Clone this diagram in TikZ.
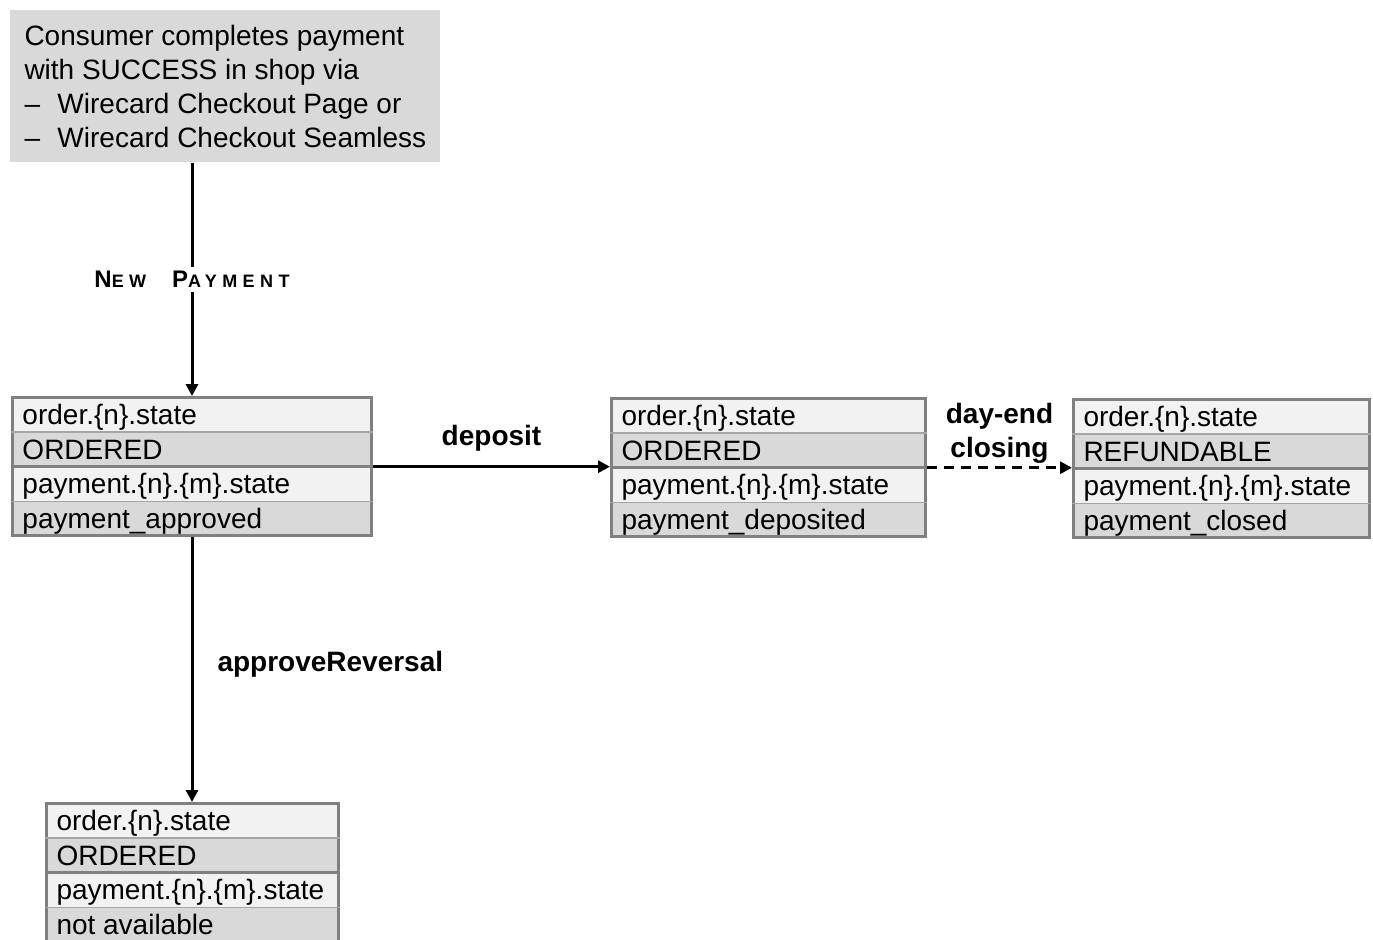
\documentclass[tikz,border=0pt]{standalone}
\usepackage{fontspec}
\setmainfont{Liberation Sans}
\newfontfamily\spacedfont[LetterSpace=30]{Liberation Sans}
\usetikzlibrary{arrows.meta}
\usetikzlibrary{shapes.multipart}
\definecolor{boxgray}{HTML}{808080}
\definecolor{splitgray}{HTML}{A6A6A6}
\definecolor{lightrow}{HTML}{F2F2F2}
\definecolor{darkrow}{HTML}{D9D9D9}
\newcommand{\rowstrut}{\rule[-3pt]{0pt}{15.8pt}}
\tikzset{statebox/.style = {rectangle split, rectangle split parts=4,
                            rectangle split part align=left,
                            rectangle split draw splits=false,
                            rectangle split part fill={lightrow,darkrow,lightrow,darkrow},
                            draw=boxgray, line width=1.5pt, inner xsep=5pt, inner ysep=0pt,
                            anchor=north west, font=\fontsize{14}{17.4}\selectfont}}
\tikzset{topbox/.style = {fill=darkrow, anchor=north west, align=left, inner sep=0pt,
                          minimum width=215pt, minimum height=76pt,
                          font=\fontsize{14}{17}\selectfont}}
\tikzset{flow/.style = {line width=1.5pt, -{Triangle[length=6pt,width=6pt]}}}
\tikzset{lbl/.style = {font=\bfseries\fontsize{14}{17}\selectfont, inner sep=0pt}}

\begin{document}
\begin{tikzpicture}[x=0.5pt, y=-0.5pt]
      \useasboundingbox (0,0) rectangle (1373,939);

      \node[topbox] (consumer) at (10,10) {Consumer completes payment\\
        with SUCCESS in shop via\\
        \makebox[16.5pt][l]{--}Wirecard Checkout Page or\\
        \makebox[16.5pt][l]{--}Wirecard Checkout Seamless};

      \node[statebox, minimum width=179.5pt] (approved) at (11,396)
        {\rowstrut order.\{n\}.state \nodepart{two}\rowstrut ORDERED
         \nodepart{three}\rowstrut payment.\{n\}.\{m\}.state \nodepart{four}\rowstrut payment\_approved};
      \node[statebox, minimum width=157pt] (deposited) at (610,397)
        {\rowstrut order.\{n\}.state \nodepart{two}\rowstrut ORDERED
         \nodepart{three}\rowstrut payment.\{n\}.\{m\}.state \nodepart{four}\rowstrut payment\_deposited};
      \node[statebox, minimum width=148pt] (closed) at (1072,398)
        {\rowstrut order.\{n\}.state \nodepart{two}\rowstrut REFUNDABLE
         \nodepart{three}\rowstrut payment.\{n\}.\{m\}.state \nodepart{four}\rowstrut payment\_closed};
      \node[statebox, minimum width=146pt] (reversed) at (45,802)
        {\rowstrut order.\{n\}.state \nodepart{two}\rowstrut ORDERED
         \nodepart{three}\rowstrut payment.\{n\}.\{m\}.state \nodepart{four}\rowstrut not available};

      \foreach \b in {approved, deposited, closed, reversed} {
        \draw [splitgray, line width=0.8pt] (\b.text split west) -- (\b.text split east);
        \draw [boxgray, line width=1.5pt] (\b.two split west) -- (\b.two split east);
        \draw [splitgray, line width=0.8pt] (\b.three split west) -- (\b.three split east);
      }

      \coordinate (newstart) at (consumer.south -| approved.north);
      \draw [flow] (newstart) -- (approved.north)
        node [midway, fill=white, inner sep=2pt] (newlbl)
        {\spacedfont\bfseries\fontsize{12}{14}\selectfont N\fontsize{9}{11}\selectfont EW\hspace{13pt}%
         \fontsize{12}{14}\selectfont P\fontsize{9}{11}\selectfont AYMENT};
      \draw [flow] (approved.east) -- (approved.east -| deposited.west)
        node [midway, lbl, yshift=14pt] (depositlbl) {deposit};
      \draw [flow, dash pattern=on 5pt off 3.5pt] (deposited.east) -- (deposited.east -| closed.west)
        node [midway, lbl, align=center, yshift=17pt] (closinglbl) {day-end\\closing};
      \draw [flow] (approved.south) -- (approved.south |- reversed.north)
        node [midway, lbl, anchor=west, xshift=12pt, yshift=2.5pt] (reversallbl) {approveReversal};
\end{tikzpicture}
\end{document}
